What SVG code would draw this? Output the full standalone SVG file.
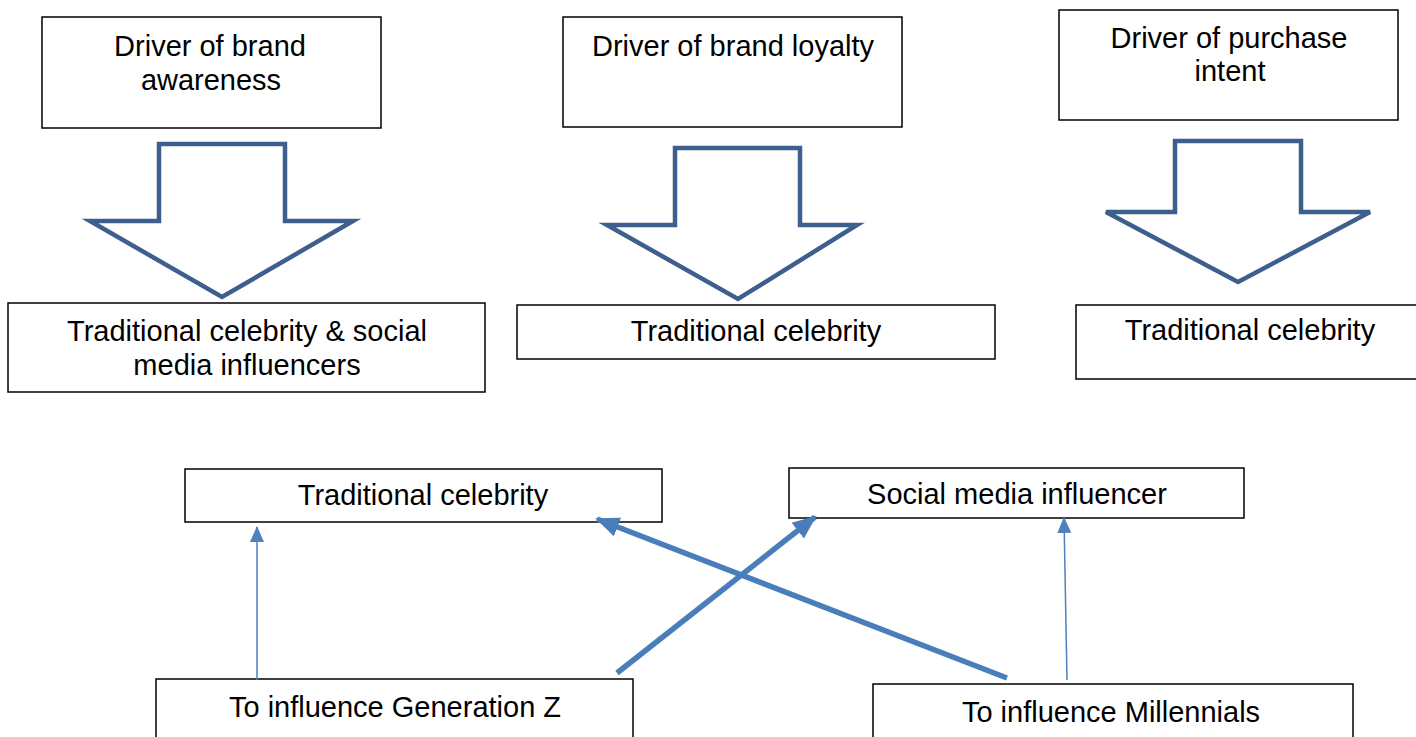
<svg xmlns="http://www.w3.org/2000/svg" width="1416" height="737" viewBox="0 0 1416 737">
<style>
.box{fill:#fff;stroke:#000;stroke-width:1.5}
.t{font-family:"Liberation Sans",Arial,sans-serif;font-size:29px;fill:#000;text-anchor:middle}
.blk{fill:#fff;stroke:#3c5f8d;stroke-width:4.5;stroke-linejoin:miter}
.thin{stroke:#4f81bd;stroke-width:1.5;fill:none}
.thick{stroke:#4a7ebb;stroke-width:5.5;fill:none}
</style>
<defs>
<marker id="ah" markerUnits="userSpaceOnUse" markerWidth="16" markerHeight="16" refX="15" refY="8" orient="auto"><path d="M0,1 L16,8 L0,15 Z" fill="#4f81bd"/></marker>
<marker id="ahb" markerUnits="userSpaceOnUse" markerWidth="24" markerHeight="24" refX="22" refY="12" orient="auto"><path d="M0,2 L24,12 L0,22 Z" fill="#4a7ebb"/></marker>
</defs>
<g id="n1"><rect class="box" x="42" y="17" width="339" height="111"/><text class="t" x="210" y="56">Driver of brand</text><text class="t" x="211" y="90">awareness</text></g>
<g id="n2"><rect class="box" x="563" y="17" width="339" height="110"/><text class="t" x="733" y="56">Driver of brand loyalty</text></g>
<g id="n3"><rect class="box" x="1059" y="10" width="339" height="110"/><text class="t" x="1229" y="48">Driver of purchase</text><text class="t" x="1230" y="81">intent</text></g>
<g id="a1"><polygon class="blk" points="159,144 285,144 285,221 353,221 222,297 90,221 159,221"/></g>
<g id="a2"><polygon class="blk" points="675,148 800,148 800,225 857,225 738,299 607,225 675,225"/></g>
<g id="a3"><polygon class="blk" points="1175,141 1301,141 1301,212 1370,212 1238,282 1106,212 1175,212"/></g>
<g id="n4"><rect class="box" x="8" y="303" width="477" height="89"/><text class="t" x="247" y="341">Traditional celebrity &amp; social</text><text class="t" x="247" y="375">media influencers</text></g>
<g id="n5"><rect class="box" x="517" y="305" width="478" height="54"/><text class="t" x="756" y="341">Traditional celebrity</text></g>
<g id="n6"><rect class="box" x="1076" y="305" width="345" height="74"/><text class="t" x="1250" y="340">Traditional celebrity</text></g>
<g id="n7"><rect class="box" x="185" y="469" width="477" height="53"/><text class="t" x="423" y="505">Traditional celebrity</text></g>
<g id="n8"><rect class="box" x="789" y="468" width="455" height="50"/><text class="t" x="1017" y="504">Social media influencer</text></g>
<g id="n9"><rect class="box" x="156" y="679" width="477" height="62"/><text class="t" x="395" y="717">To influence Generation Z</text></g>
<g id="n10"><rect class="box" x="873" y="684" width="480" height="60"/><text class="t" x="1111" y="722">To influence Millennials</text></g>
<g id="connectors">
<line class="thin" x1="257" y1="680" x2="257" y2="527" marker-end="url(#ah)"/>
<line class="thin" x1="1067" y1="680" x2="1064" y2="518" marker-end="url(#ah)"/>
<line class="thick" x1="1007" y1="678" x2="597" y2="519" marker-end="url(#ahb)"/>
<line class="thick" x1="617" y1="673" x2="815" y2="517" marker-end="url(#ahb)"/>
</g>
</svg>
